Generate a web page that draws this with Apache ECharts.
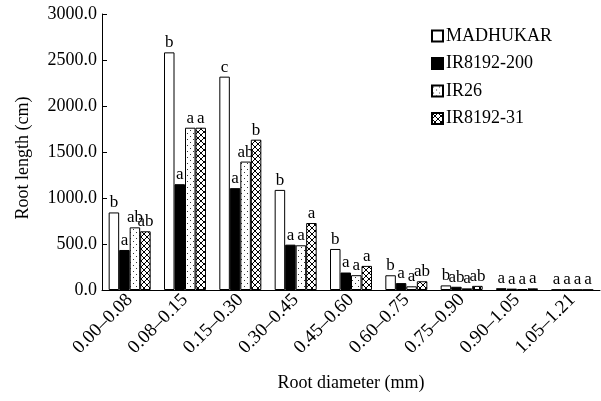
<!DOCTYPE html>
<html><head><meta charset="utf-8">
<script src="https://cdn.jsdelivr.net/npm/echarts@6/dist/echarts.min.js"></script>
<style>html,body{margin:0;padding:0;background:#fff}#c{width:601px;height:401px}</style>
</head><body><div id="c"></div>
<script>
const categories = ['0.00–0.08','0.08–0.15','0.15–0.30','0.30–0.45','0.45–0.60','0.60–0.75','0.75–0.90','0.90–1.05','1.05–1.21'];
const seriesNames = ['MADHUKAR','IR8192-200','IR26','IR8192-31'];
const madhukar = [843, 2583, 2319, 1088, 446, 160, 50, 20, 5];
const ir200    = [435, 1150, 1107, 493, 190, 75, 35, 15, 3];
const ir26     = [681, 1764, 1396, 486, 161, 40, 18, 10, 3];
const ir31     = [638, 1764, 1634, 728, 262, 95, 45, 18, 3];
const madLbl  = ['b','b','c','b','b','b','b','a','a'];
const ir200Lbl= ['a','a','a','a','a','a','ab','a','a'];
const ir26Lbl = ['ab','a','ab','a','a','a','a','a','a'];
const ir31Lbl = ['ab','a','b','a','a','ab','ab','a','a'];
const yTicks = {min:0, max:3000, interval:500};

function tile(draw, n){
  const c = document.createElement('canvas'); c.width = n; c.height = n;
  const g = c.getContext('2d'); g.fillStyle = '#fff'; g.fillRect(0,0,n,n);
  g.fillStyle = '#000'; draw(g, n); return c;
}
const dots = tile((g,n)=>{ g.fillStyle='#333'; g.fillRect(1,1,1,1); g.fillRect(4,4,1,1); }, 6);
const hatch = tile((g,n)=>{ for(let i=0;i<n;i++){ g.fillRect(i,i,1,1); g.fillRect(n-1-i,i,1,1);} }, 6);

const font = 'Liberation Serif';
const fills = ['#ffffff', '#000000', {image: dots, repeat:'repeat'}, {image: hatch, repeat:'repeat'}];
const datas = [madhukar, ir200, ir26, ir31];
const lbls = [madLbl, ir200Lbl, ir26Lbl, ir31Lbl];

const chart = echarts.init(document.getElementById('c'), null, {renderer:'canvas'});
chart.setOption({
  animation:false,
  backgroundColor:'#fff',
  grid:{left:102, right:1, top:14, bottom:111, containLabel:false},
  legend:{
    orient:'vertical', left:426, top:22, itemWidth:11, itemHeight:11, itemGap:9.5,
    icon:'rect',
    textStyle:{fontFamily:font, fontSize:18, color:'#000', padding:[0,0,0,-2]},
    data: seriesNames
  },
  graphic:[{
    type:'text', x:23, y:158, rotation:Math.PI/2,
    style:{text:'Root length (cm)', fontFamily:font, fontSize:18, fill:'#000', align:'center', verticalAlign:'middle'}
  }],
  xAxis:{
    type:'category', data:categories,
    name:'Root diameter (mm)', nameLocation:'middle', nameGap:84,
    nameTextStyle:{fontFamily:font, fontSize:18, color:'#000'},
    axisLine:{lineStyle:{color:'#000', width:1}},
    axisTick:{inside:true, length:4, lineStyle:{color:'#000'}},
    axisLabel:{rotate:45, fontFamily:font, fontSize:19, color:'#000', margin:7, interval:0},
    splitLine:{show:false}
  },
  yAxis:{
    type:'value', min:yTicks.min, max:yTicks.max, interval:yTicks.interval,
    axisLine:{show:true, lineStyle:{color:'#000', width:1}},
    axisTick:{show:true, inside:true, length:5, lineStyle:{color:'#000'}},
    axisLabel:{fontFamily:font, fontSize:18, color:'#000', margin:5, formatter:v=>v.toFixed(1)},
    splitLine:{show:false}
  },
  series: seriesNames.map((nm,k)=>({
    name:nm, type:'bar', barWidth:10.5, barGap:'0%',
    data: datas[k],
    itemStyle:{color:fills[k], borderColor:'#000', borderWidth:1},
    label:{show:true, position:'top', distance:1, fontFamily:font, fontSize:17, color:'#000',
      formatter:p=>lbls[k][p.dataIndex]}
  }))
});
</script></body></html>
